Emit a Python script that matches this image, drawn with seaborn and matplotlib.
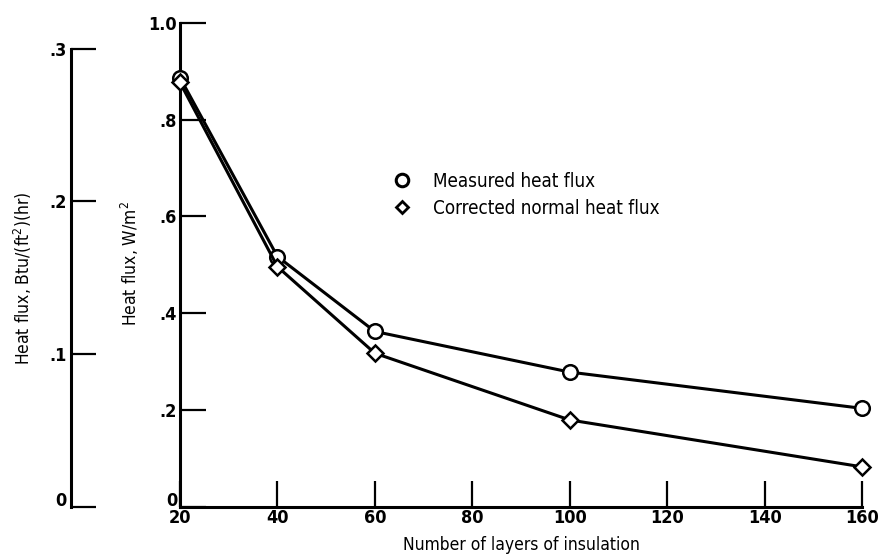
import matplotlib
matplotlib.use("Agg")
import matplotlib.pyplot as plt
from matplotlib import font_manager
from matplotlib.lines import Line2D
import pandas as pd
import seaborn as sns

# ---------------- data ----------------
layers = [20, 40, 60, 100, 160]
measured = [0.887, 0.517, 0.362, 0.278, 0.203]
corrected = [0.877, 0.496, 0.317, 0.179, 0.082]

x_ticks = [20, 40, 60, 80, 100, 120, 140, 160]
x_tick_labels = ["20", "40", "60", "80", "100", "120", "140", "160"]
si_ticks = [0, 0.2, 0.4, 0.6, 0.8, 1.0]
si_tick_labels = ["0", ".2", ".4", ".6", ".8", "1.0"]
eng_ticks = [0, 0.1, 0.2, 0.3]
eng_tick_labels = ["0", ".1", ".2", ".3"]

series_names = ["Measured heat flux", "Corrected normal heat flux"]
x_label = "Number of layers of insulation"
si_label = r"Heat flux, W/m$^2$"
eng_label = r"Heat flux, Btu/(ft$^2$)(hr)"
W_M2_PER_BTU_FT2_HR = 3.1546  # unit conversion

# ---------------- style ----------------
sns.set_theme(style="white")
available = {f.name for f in font_manager.fontManager.ttflist}
if "Liberation Sans Narrow" in available:
    fam = ["Liberation Sans Narrow", "DejaVu Sans"]
    plt.rcParams["mathtext.rm"] = "Liberation Sans Narrow"
else:
    fam = ["DejaVu Sans"]
    plt.rcParams["font.stretch"] = "condensed"
    plt.rcParams["mathtext.rm"] = "DejaVu Sans:stretch=condensed"
plt.rcParams["font.family"] = fam
plt.rcParams["mathtext.fontset"] = "custom"
plt.rcParams["axes.unicode_minus"] = False

W, H = 879, 558
fig = plt.figure(figsize=(W / 100, H / 100), dpi=100)
fig.patch.set_facecolor("white")

left_px, right_px, bottom_px, top_px = 180, 862, 506.5, 23
ax = fig.add_axes([left_px / W, 1 - bottom_px / H,
                   (right_px - left_px) / W, (bottom_px - top_px) / H])
ax.set_facecolor("none")

df = pd.DataFrame({
    "layers": layers * 2,
    "flux": measured + corrected,
    "series": [series_names[0]] * len(layers) + [series_names[1]] * len(layers),
})
sns.lineplot(data=df, x="layers", y="flux", style="series",
             markers={series_names[0]: "o", series_names[1]: "D"},
             dashes=False, color="black", linewidth=2.2, markersize=10.5,
             markerfacecolor="white", markeredgecolor="black",
             markeredgewidth=1.8, legend=False, ax=ax, clip_on=False,
             zorder=3)
# diamond a bit smaller so it matches the circle's extent
for line in ax.lines:
    if line.get_marker() == "D":
        line.set_markersize(8.5)

ax.set_xlim(20, 160)
ax.set_ylim(0, 1.0)
ax.set_xticks(x_ticks, x_tick_labels)
ax.set_yticks(si_ticks, si_tick_labels)
for s in ["top", "right"]:
    ax.spines[s].set_visible(False)
for s in ["left", "bottom"]:
    ax.spines[s].set_linewidth(2.2)
    ax.spines[s].set_color("black")
ax.tick_params(axis="both", which="major", direction="in", length=19,
               width=1.6, color="black", labelcolor="black", labelsize=13,
               pad=2, left=True, bottom=True, top=False, right=False)
for lab in ax.get_xticklabels() + ax.get_yticklabels():
    lab.set_fontweight("bold")
ax.get_yticklabels()[0].set_verticalalignment("baseline")

ax.set_xlabel(x_label, fontsize=12.5, color="black")
ax.xaxis.set_label_coords(521 / W, 1 - 536 / H, transform=fig.transFigure)
ax.set_ylabel(si_label, fontsize=12.5, color="black")
ax.yaxis.set_label_coords(141 / W, 1 - 264 / H, transform=fig.transFigure)

# secondary (English units) axis
ax2 = fig.add_axes([71 / W, 1 - bottom_px / H, 0.05, (bottom_px - top_px) / H])
ax2.set_facecolor("none")
ax2.set_ylim(0, 1.0 / W_M2_PER_BTU_FT2_HR)
ax2.set_yticks(eng_ticks, eng_tick_labels)
ax2.set_xticks([])
for s in ["top", "right", "bottom"]:
    ax2.spines[s].set_visible(False)
ax2.spines["left"].set_linewidth(2.2)
ax2.spines["left"].set_color("black")
ax2.spines["left"].set_bounds(0, 0.3)
ax2.tick_params(axis="y", which="major", direction="in", length=18,
                width=1.6, color="black", labelcolor="black", labelsize=13,
                pad=3, left=True, right=False)
for lab in ax2.get_yticklabels():
    lab.set_fontweight("bold")
ax2.get_yticklabels()[0].set_verticalalignment("baseline")
ax2.set_ylabel(eng_label, fontsize=12.5, color="black")
ax2.yaxis.set_label_coords(34 / W, 1 - 278 / H, transform=fig.transFigure)

# legend (markers only)
handles = [
    Line2D([], [], marker="o", linestyle="none", markerfacecolor="white",
           markeredgecolor="black", markeredgewidth=2.2, markersize=9),
    Line2D([], [], marker="D", linestyle="none", markerfacecolor="white",
           markeredgecolor="black", markeredgewidth=2.0, markersize=6.5),
]
fig.legend(handles, series_names, loc="upper left",
           bbox_to_anchor=(393 / W, 1 - 172 / H), frameon=False,
           borderpad=0, borderaxespad=0, handlelength=1.0,
           handletextpad=1.15, labelspacing=0.4, fontsize=13.5,
           labelcolor="black")

fig.savefig("out.png", dpi=100, facecolor="white")
